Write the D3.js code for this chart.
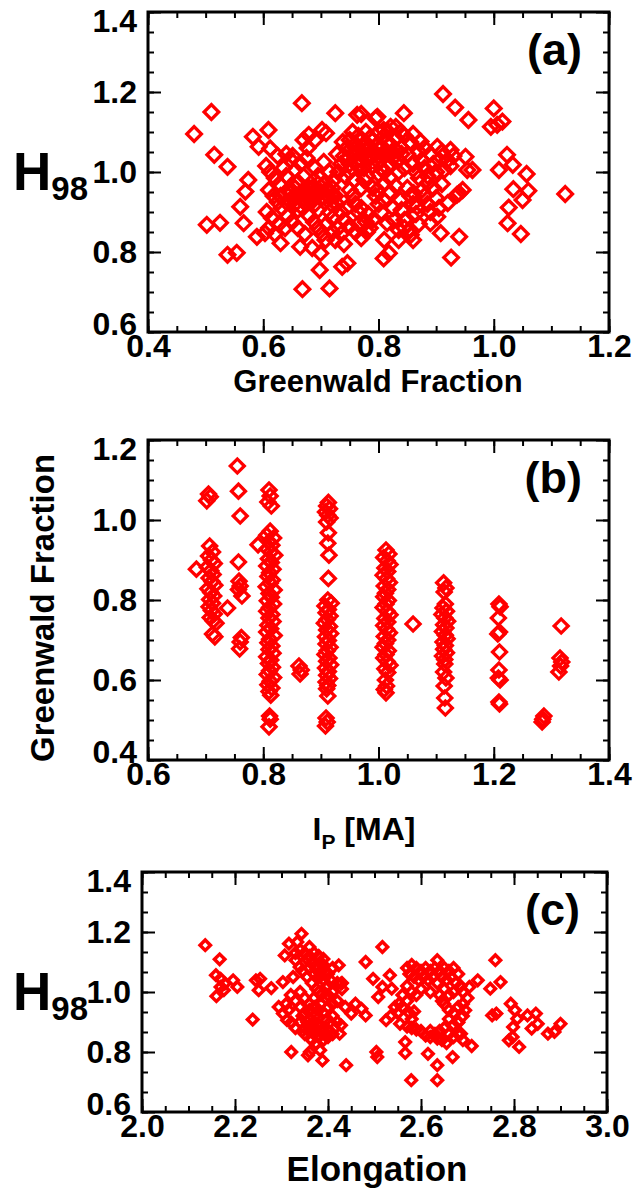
<!DOCTYPE html>
<html>
<head>
<meta charset="utf-8">
<script src="https://cdn.jsdelivr.net/npm/d3@7"></script>
<style>
body { margin: 0; background: #fff; }
text { font-family: "Liberation Sans", Arial, sans-serif; font-weight: bold; fill: #000; }
.tick text { font-size: 32px; }
</style>
</head>
<body>
<svg id="chart" width="643" height="1193"></svg>
<script>
// tick labels
const aXTicks = [0.4, 0.6, 0.8, 1.0, 1.2];
const aYTicks = [0.6, 0.8, 1.0, 1.2, 1.4];
const bXTicks = [0.6, 0.8, 1.0, 1.2, 1.4];
const bYTicks = [0.4, 0.6, 0.8, 1.0, 1.2];
const cXTicks = [2.0, 2.2, 2.4, 2.6, 2.8, 3.0];
const cYTicks = [0.6, 0.8, 1.0, 1.2, 1.4];

// (a) [Greenwald fraction, H98]
const gwH98 = [
  [0.48,1.095],[0.51,1.15],[0.515,1.043],[0.538,1.013],[0.502,0.868],[0.525,0.873],[0.538,0.793],[0.554,0.798],
  [0.667,1.172],[0.668,0.707],[0.715,0.709],[0.698,0.755],[0.737,0.763],[0.746,0.772],[0.566,0.872],[0.56,0.913],
  [0.574,0.98],[0.569,0.951],[0.582,1.088],[0.609,1.105],[0.612,1.059],[0.592,1.063],[0.63,0.822],[0.589,0.838],
  [0.603,0.847],[0.664,0.813],[0.699,0.797],[0.702,1.105],[0.725,1.147],[0.763,1.143],[0.795,1.134],[0.67,1.08],
  [0.679,1.093],[0.912,1.195],[0.933,1.161],[0.956,1.13],[1.0,1.159],[1.015,1.126],[0.995,1.113],[1.006,1.118],
  [1.023,1.043],[1.009,1.005],[1.033,1.018],[1.057,0.995],[1.034,0.957],[1.06,0.953],[1.05,0.93],[1.026,0.911],
  [1.024,0.872],[1.047,0.845],[1.124,0.945],[0.954,1.005],[0.963,1.005],[0.94,0.947],[0.946,0.955],[0.936,0.943],
  [0.92,0.922],[0.94,0.838],[0.926,0.786],[0.809,0.784],[0.818,0.797],[0.856,0.843],[0.89,0.872],[0.908,0.847],
  [0.902,0.888],[0.867,0.913],[0.827,0.88],[0.835,0.855],[0.815,0.872],[0.844,1.147],[0.798,1.138],[0.873,1.076],
  [0.902,1.063],[0.925,1.055],[0.951,1.038],[0.914,1.005],[0.885,0.972],[0.838,0.93],[0.861,0.947],[0.798,0.955],
  [0.809,0.93],[0.821,1.113],[0.83,1.113],[0.809,1.105],[0.77,1.145],[0.839,1.1],[0.817,1.1],[0.709,1.097],
  [0.69,1.08],[0.677,1.06],[0.651,1.04],
  [0.605,1.015],[0.612,1.0],[0.62,0.985],[0.628,0.97],[0.61,0.955],[0.618,0.94],[0.625,0.925],[0.632,0.91],
  [0.606,0.9],[0.615,0.885],[0.627,0.87],[0.638,0.86],[0.61,0.86],[0.62,0.845],[0.645,0.95],[0.65,0.935],
  [0.655,0.92],[0.66,0.905],[0.642,0.89],[0.65,0.875],[0.66,0.86],[0.672,0.845],[0.668,0.93],[0.675,0.945],
  [0.68,0.96],[0.685,0.935],[0.69,0.92],[0.695,0.905],[0.68,0.89],[0.688,0.875],[0.695,0.86],[0.702,0.845],
  [0.708,0.83],[0.685,0.81],[0.7,0.95],[0.705,0.97],[0.712,0.94],[0.718,0.92],[0.715,0.9],[0.72,0.885],
  [0.71,0.87],[0.64,0.99],[0.655,1.005],[0.665,1.02],[0.675,1.035],[0.69,1.01],[0.695,0.99],[0.705,1.025],
  [0.715,1.0],[0.722,0.98],[0.66,0.975],[0.67,0.99],[0.648,1.03],[0.635,1.01],[0.625,1.04],[0.64,1.045],
  [0.63,0.94],[0.64,0.925],[0.65,0.95],[0.66,0.94],[0.67,0.955],[0.68,0.945],[0.69,0.95],[0.7,0.935],
  [0.71,0.955],[0.72,0.94],[0.655,0.96],[0.665,0.915],[0.675,0.925],[0.685,0.96],[0.695,0.97],
  [0.73,1.0],[0.735,1.02],[0.74,1.04],[0.745,1.06],[0.75,1.08],[0.755,1.1],[0.76,1.07],[0.765,1.05],
  [0.77,1.03],[0.775,1.01],[0.78,0.99],[0.785,1.06],[0.79,1.08],[0.795,1.045],[0.8,1.025],[0.805,1.06],
  [0.81,1.04],[0.815,1.075],[0.82,1.02],[0.825,1.05],[0.83,1.085],[0.835,1.03],[0.84,1.06],[0.845,1.01],
  [0.85,1.045],[0.855,1.075],[0.86,1.02],[0.75,1.0],[0.758,0.98],[0.765,1.09],[0.778,1.1],[0.785,1.035],
  [0.8,1.1],[0.81,1.0],[0.82,0.985],[0.835,1.0],[0.76,1.025],[0.772,1.065],[0.742,0.99],[0.728,1.045],
  [0.738,1.075],[0.79,1.015],[0.86,1.095],[0.845,1.09],[0.87,1.05],[0.875,1.03],[0.88,1.01],[0.89,1.045],
  [0.895,1.02],[0.9,1.0],[0.905,1.03],[0.91,1.05],[0.88,1.06],[0.865,1.0],[0.87,0.985],[0.885,0.99],
  [0.92,1.03],[0.925,1.015],[0.93,1.04],
  [0.745,1.03],[0.755,1.045],[0.765,1.015],[0.775,1.045],[0.78,1.07],[0.79,1.05],[0.795,1.065],[0.8,1.04],
  [0.805,1.01],[0.815,1.05],[0.82,1.07],[0.825,1.035],[0.83,1.055],[0.84,1.045],[0.8,0.995],[0.77,1.08],
  [0.76,1.06],[0.785,1.085],[0.81,1.09],[0.75,1.02],
  [0.72,0.96],[0.725,0.94],[0.728,0.92],[0.735,0.9],[0.745,0.91],[0.75,0.955],[0.755,0.94],[0.76,0.92],
  [0.765,0.9],[0.74,0.88],[0.75,0.865],[0.76,0.85],[0.77,0.835],[0.73,0.86],[0.735,0.845],[0.72,0.85],
  [0.725,0.83],[0.74,0.82],[0.778,0.875],[0.785,0.86],[0.79,0.88],[0.79,0.96],[0.795,0.94],[0.8,0.92],
  [0.805,0.9],[0.81,0.97],[0.82,0.95],[0.825,0.91],[0.83,0.965],[0.84,0.905],[0.845,0.88],[0.85,0.96],
  [0.855,0.94],[0.86,0.92],[0.865,0.895],[0.87,0.87],[0.875,0.955],[0.88,0.94],[0.885,0.92],[0.89,0.9],
  [0.895,0.96],[0.9,0.935],[0.905,0.91],[0.91,0.97],[0.77,0.96],[0.775,0.98],[0.77,0.91],[0.782,0.895],
  [0.765,0.87],[0.78,0.85],[0.81,0.83],[0.845,0.86],[0.855,0.855],[0.86,0.83],[0.835,0.83]
];

// (b) [Ip (MA), Greenwald fraction]
const ipGw = [
  [0.684,0.877],
  [0.705,1.065],[0.708,1.058],[0.702,1.048],[0.707,0.935],[0.712,0.92],[0.705,0.91],[0.71,0.9],[0.715,0.891],
  [0.703,0.882],[0.709,0.873],[0.713,0.864],[0.706,0.855],[0.711,0.846],[0.716,0.837],[0.704,0.828],[0.709,0.819],
  [0.714,0.81],[0.707,0.801],[0.712,0.792],[0.706,0.783],[0.71,0.774],[0.715,0.765],[0.708,0.756],[0.713,0.748],
  [0.718,0.742],[0.712,0.715],[0.716,0.708],
  [0.738,0.78],
  [0.755,1.135],[0.757,1.072],[0.76,1.01],[0.757,0.895],[0.758,0.847],[0.76,0.835],[0.757,0.826],[0.763,0.81],
  [0.762,0.706],[0.76,0.695],[0.759,0.678],
  [0.81,1.075],[0.812,1.06],[0.808,1.045],[0.814,1.035],[0.791,0.938],
  [0.812,0.972],[0.806,0.962],[0.818,0.955],[0.81,0.946],[0.815,0.937],[0.807,0.928],[0.813,0.92],[0.82,0.912],
  [0.809,0.903],[0.814,0.894],[0.806,0.885],[0.817,0.877],[0.811,0.868],[0.808,0.859],[0.816,0.85],[0.812,0.842],
  [0.805,0.833],[0.819,0.825],[0.81,0.816],[0.814,0.807],[0.807,0.798],[0.818,0.79],[0.811,0.781],[0.806,0.772],
  [0.815,0.764],[0.81,0.755],[0.817,0.746],[0.808,0.737],[0.813,0.728],[0.806,0.72],[0.819,0.711],[0.811,0.702],
  [0.808,0.693],[0.815,0.685],[0.81,0.676],[0.817,0.667],[0.806,0.658],[0.813,0.65],[0.809,0.641],[0.816,0.632],
  [0.811,0.623],[0.807,0.614],[0.818,0.606],[0.812,0.597],[0.808,0.588],[0.815,0.58],[0.81,0.571],[0.813,0.562],
  [0.811,0.51],[0.812,0.502],[0.81,0.483],
  [0.862,0.635],[0.866,0.625],[0.864,0.615],
  [0.913,1.044],[0.91,1.035],[0.915,1.028],[0.908,1.02],[0.912,1.012],[0.916,1.005],[0.91,0.995],[0.913,0.968],
  [0.912,0.942],[0.914,0.912],[0.913,0.854],
  [0.912,0.8],[0.918,0.792],[0.907,0.785],[0.913,0.776],[0.909,0.768],[0.916,0.76],[0.911,0.751],[0.906,0.742],
  [0.915,0.734],[0.91,0.725],[0.917,0.716],[0.908,0.708],[0.913,0.699],[0.909,0.69],[0.916,0.682],[0.911,0.673],
  [0.907,0.664],[0.914,0.655],[0.91,0.647],[0.917,0.638],[0.908,0.63],[0.913,0.621],[0.91,0.612],[0.915,0.604],
  [0.909,0.595],[0.912,0.586],[0.91,0.578],[0.912,0.56],[0.909,0.505],[0.911,0.495],[0.908,0.485],
  [1.013,0.925],[1.018,0.915],[1.009,0.906],[1.015,0.898],[1.02,0.889],[1.011,0.88],[1.016,0.871],[1.008,0.862],
  [1.014,0.853],[1.019,0.844],[1.01,0.835],[1.016,0.826],[1.012,0.817],[1.009,0.808],[1.017,0.799],[1.013,0.79],
  [1.008,0.781],[1.015,0.772],[1.02,0.763],[1.011,0.754],[1.016,0.745],[1.009,0.736],[1.014,0.727],[1.019,0.718],
  [1.01,0.709],[1.016,0.7],[1.012,0.691],[1.008,0.682],[1.017,0.673],[1.013,0.664],[1.009,0.655],[1.015,0.646],
  [1.02,0.637],[1.011,0.628],[1.016,0.619],[1.012,0.6],[1.014,0.585],[1.01,0.576],[1.013,0.568],
  [1.06,0.74],
  [1.113,0.843],[1.117,0.83],[1.114,0.82],[1.116,0.79],[1.112,0.78],[1.118,0.772],[1.11,0.764],[1.115,0.755],
  [1.12,0.747],[1.113,0.738],[1.117,0.73],[1.111,0.721],[1.116,0.712],[1.119,0.703],[1.112,0.695],[1.116,0.686],
  [1.113,0.677],[1.118,0.668],[1.111,0.66],[1.115,0.651],[1.115,0.64],[1.113,0.62],[1.117,0.605],[1.114,0.585],
  [1.115,0.555],[1.116,0.53],
  [1.209,0.79],[1.211,0.783],[1.208,0.755],[1.21,0.72],[1.207,0.715],[1.21,0.67],[1.209,0.625],[1.208,0.605],
  [1.211,0.6],[1.209,0.545],[1.21,0.54],
  [1.287,0.51],[1.285,0.502],[1.284,0.495],
  [1.317,0.735],[1.315,0.655],[1.318,0.645],[1.316,0.635],[1.313,0.62]
];

// (c) [elongation, H98]
const elongH98 = [
  [2.136,1.156],[2.167,1.109],[2.159,1.056],[2.169,1.044],[2.178,1.028],[2.169,1.017],[2.16,0.986],[2.176,1.006],
  [2.196,1.039],[2.205,1.017],[2.238,0.908],[2.245,1.039],[2.254,1.044],[2.251,1.006],[2.278,1.013],[2.303,1.033],
  [2.307,1.122],[2.294,0.95],[2.303,0.928],[2.312,0.906],[2.321,0.898],[2.321,0.8],[2.316,1.161],[2.334,1.167],
  [2.343,1.194],[2.33,1.106],[2.339,1.083],[2.357,0.789],[2.361,0.8],[2.388,0.772],[2.383,0.806],[2.374,0.828],
  [2.425,0.861],[2.428,0.889],[2.423,1.089],[2.439,0.756],[2.428,1.028],[2.437,0.95],[2.45,0.928],[2.459,0.961],
  [2.472,0.944],[2.481,0.922],[2.481,1.1],[2.497,1.044],[2.517,1.15],[2.504,0.8],[2.506,0.783],[2.508,0.983],
  [2.517,1.017],[2.533,1.056],[2.537,1.011],[2.525,0.906],[2.536,0.922],[2.544,0.95],[2.553,0.961],[2.555,0.894],
  [2.566,0.833],[2.566,0.797],[2.579,0.706],[2.615,0.794],[2.635,0.756],[2.635,0.706],[2.635,1.106],[2.668,0.783],
  [2.695,0.939],[2.68,0.898],[2.686,0.861],[2.709,0.82],[2.704,1.017],[2.722,1.039],[2.749,1.011],[2.76,1.106],
  [2.771,1.033],[2.753,0.922],[2.762,0.928],[2.789,0.839],[2.797,0.85],[2.793,0.961],[2.802,0.939],[2.798,0.883],
  [2.811,0.817],[2.807,0.911],[2.829,0.922],[2.847,0.928],[2.838,0.878],[2.851,0.894],[2.873,0.861],[2.887,0.867],
  [2.9,0.894],
  [2.34,1.14],[2.35,1.13],[2.36,1.12],[2.37,1.13],[2.38,1.12],[2.39,1.11],[2.35,1.1],[2.36,1.08],
  [2.37,1.06],[2.38,1.05],[2.39,1.04],[2.40,1.06],[2.41,1.08],[2.40,1.02],[2.41,1.0],[2.42,1.03],
  [2.345,1.07],[2.355,1.05],[2.365,1.03],[2.375,1.01],[2.385,0.99],[2.395,0.98],[2.34,1.0],[2.35,0.98],
  [2.36,0.96],[2.37,0.95],[2.38,0.94],[2.39,0.93],[2.40,0.95],[2.41,0.96],[2.42,0.97],[2.33,0.97],
  [2.34,0.95],[2.35,0.93],[2.36,0.91],[2.37,0.9],[2.38,0.89],[2.39,0.88],[2.4,0.87],[2.41,0.86],
  [2.34,0.9],[2.35,0.88],[2.36,0.87],[2.37,0.86],[2.38,0.85],[2.39,0.84],[2.4,0.85],[2.35,0.86],
  [2.33,0.88],[2.345,0.87],[2.365,0.84],[2.38,0.915],[2.395,0.905],[2.41,0.92],[2.42,0.9],[2.43,1.01],
  [2.43,1.03],[2.37,0.98],[2.385,1.07],[2.375,1.09],[2.36,1.15],[2.33,1.13],[2.325,1.05],[2.32,0.99],
  [2.31,0.96],[2.315,0.94],
  [2.355,1.11],[2.365,1.095],[2.375,1.075],[2.385,1.055],[2.395,1.07],[2.405,1.04],[2.395,1.015],[2.385,0.96],
  [2.375,0.925],[2.365,0.895],[2.355,0.9],[2.345,0.92],[2.385,0.87],[2.395,0.855],[2.405,0.9],[2.37,0.88],
  [2.36,0.94],[2.4,0.99],[2.38,1.0],[2.39,1.09],
  [2.57,1.08],[2.58,1.09],[2.59,1.08],[2.60,1.07],[2.61,1.08],[2.62,1.07],[2.63,1.08],[2.64,1.07],
  [2.65,1.08],[2.66,1.07],[2.67,1.08],[2.68,1.06],[2.575,1.06],[2.585,1.05],[2.595,1.04],[2.605,1.05],
  [2.615,1.04],[2.625,1.05],[2.635,1.03],[2.645,1.05],[2.655,1.04],[2.665,1.05],[2.675,1.03],[2.685,1.02],
  [2.57,1.02],[2.58,1.0],[2.59,0.99],[2.6,1.01],[2.62,1.0],[2.64,0.99],[2.65,1.01],[2.66,0.99],
  [2.67,1.0],[2.69,1.0],[2.7,0.98],[2.56,0.99],[2.57,0.97],
  [2.65,0.96],[2.66,0.94],[2.67,0.93],[2.68,0.95],[2.69,0.96],[2.66,0.91],[2.67,0.89],[2.68,0.9],
  [2.69,0.92],[2.65,0.88],[2.66,0.86],[2.67,0.85],[2.68,0.86],[2.69,0.84],[2.64,0.87],[2.63,0.86],
  [2.62,0.85],[2.61,0.855],[2.6,0.87],[2.59,0.875],[2.58,0.88],[2.57,0.885],[2.62,0.87],[2.635,0.845],
  [2.645,0.84],[2.655,0.83],[2.56,0.95],[2.55,0.93],[2.575,0.93],[2.58,0.91],[2.585,0.935],[2.645,0.97]
];

let svg = d3.select('#chart')
let fmt = d3.format('.1f')

let drawPanel = (p) => {
    let x = d3.scaleLinear().domain(p.xDomain).range([p.left, p.right])
    let y = d3.scaleLinear().domain(p.yDomain).range([p.bottom, p.top])
    let g = svg.append('g')

    // points, open diamonds
    g.append('g')
        .selectAll('path')
        .data(p.data)
        .enter()
        .append('path')
        .attr('d', d3.symbol(d3.symbolSquare, 2 * p.r * p.r))
        .attr('transform', (d) => 'translate(' + x(d[0]) + ',' + y(d[1]) + ') rotate(45)')
        .attr('fill', 'none')
        .attr('stroke', '#ff0000')
        .attr('stroke-width', p.sw)

    let xMinor = d3.range(p.xDomain[0], p.xDomain[1] + 1e-9, p.xStep)
    let yMinor = d3.range(p.yDomain[0], p.yDomain[1] + 1e-9, p.yStep)

    let clean = (sel) => {
        sel.select('.domain').remove()
        sel.selectAll('line').attr('stroke', '#000').attr('stroke-width', 2)
    }

    // minor ticks on all four sides
    g.append('g').attr('transform', 'translate(0,' + p.bottom + ')')
        .call(d3.axisBottom(x).tickValues(xMinor).tickSize(-6).tickFormat('')).call(clean)
    g.append('g').attr('transform', 'translate(0,' + p.top + ')')
        .call(d3.axisTop(x).tickValues(xMinor).tickSize(-6).tickFormat('')).call(clean)
    g.append('g').attr('transform', 'translate(' + p.left + ',0)')
        .call(d3.axisLeft(y).tickValues(yMinor).tickSize(-6).tickFormat('')).call(clean)
    g.append('g').attr('transform', 'translate(' + p.right + ',0)')
        .call(d3.axisRight(y).tickValues(yMinor).tickSize(-6).tickFormat('')).call(clean)

    // major ticks
    g.append('g').attr('transform', 'translate(0,' + p.bottom + ')')
        .call(d3.axisBottom(x).tickValues(p.xTicks).tickSize(-13).tickPadding(2).tickFormat(fmt)).call(clean)
    g.append('g').attr('transform', 'translate(0,' + p.top + ')')
        .call(d3.axisTop(x).tickValues(p.xTicks).tickSize(-13).tickFormat('')).call(clean)
    let yl = g.append('g').attr('transform', 'translate(' + p.left + ',0)')
        .call(d3.axisLeft(y).tickValues(p.yTicks).tickSize(-13).tickPadding(11).tickFormat(fmt)).call(clean)
    g.append('g').attr('transform', 'translate(' + p.right + ',0)')
        .call(d3.axisRight(y).tickValues(p.yTicks).tickSize(-13).tickFormat('')).call(clean)

    // end labels sit a little inside the frame
    let n = p.yTicks.length
    yl.selectAll('.tick text').attr('y', (d, i) => i === 0 ? -8 : (i === n - 1 ? 9 : 0))

    // frame
    g.append('rect')
        .attr('x', p.left).attr('y', p.top)
        .attr('width', p.right - p.left).attr('height', p.bottom - p.top)
        .attr('fill', 'none').attr('stroke', '#000').attr('stroke-width', 3)

    g.append('text')
        .attr('x', p.right - 27).attr('y', p.top + 53)
        .attr('text-anchor', 'end')
        .style('font-size', '45px')
        .text(p.tag)
    return g
}

let gA = drawPanel({data: gwH98, xDomain: [0.4, 1.2], yDomain: [0.6, 1.4], xTicks: aXTicks, yTicks: aYTicks,
    xStep: 0.05, yStep: 0.05, left: 148, right: 609, top: 12, bottom: 332, r: 7.3, sw: 3.3, tag: '(a)'})
let gB = drawPanel({data: ipGw, xDomain: [0.6, 1.4], yDomain: [0.4, 1.2], xTicks: bXTicks, yTicks: bYTicks,
    xStep: 0.05, yStep: 0.05, left: 148, right: 609, top: 440, bottom: 760, r: 7, sw: 3.3, tag: '(b)'})
let gC = drawPanel({data: elongH98, xDomain: [2.0, 3.0], yDomain: [0.6, 1.4], xTicks: cXTicks, yTicks: cYTicks,
    xStep: 0.05, yStep: 0.2 / 3, left: 142, right: 607, top: 872, bottom: 1112, r: 5.2, sw: 3.5, tag: '(c)'})

// axis titles
let h98 = (yPos) => {
    let t = svg.append('text').attr('x', 13).attr('y', yPos)
    t.append('tspan').style('font-size', '53px').text('H')
    t.append('tspan').attr('dy', 10).style('font-size', '33px').text('98')
}
h98(190)
h98(1010)

svg.append('text').attr('x', 378).attr('y', 392).attr('text-anchor', 'middle')
    .style('font-size', '31px').text('Greenwald Fraction')

svg.append('text').attr('transform', 'translate(54,608) rotate(-90)').attr('text-anchor', 'middle')
    .style('font-size', '33px').text('Greenwald Fraction')

let ip = svg.append('text').attr('x', 364).attr('y', 840).attr('text-anchor', 'middle').style('font-size', '32px')
ip.append('tspan').text('I')
ip.append('tspan').attr('dy', 9).style('font-size', '21px').text('P')
ip.append('tspan').attr('dy', -9).text(' [MA]')

svg.append('text').attr('x', 377).attr('y', 1181).attr('text-anchor', 'middle')
    .style('font-size', '35px').text('Elongation')
</script>
</body>
</html>
